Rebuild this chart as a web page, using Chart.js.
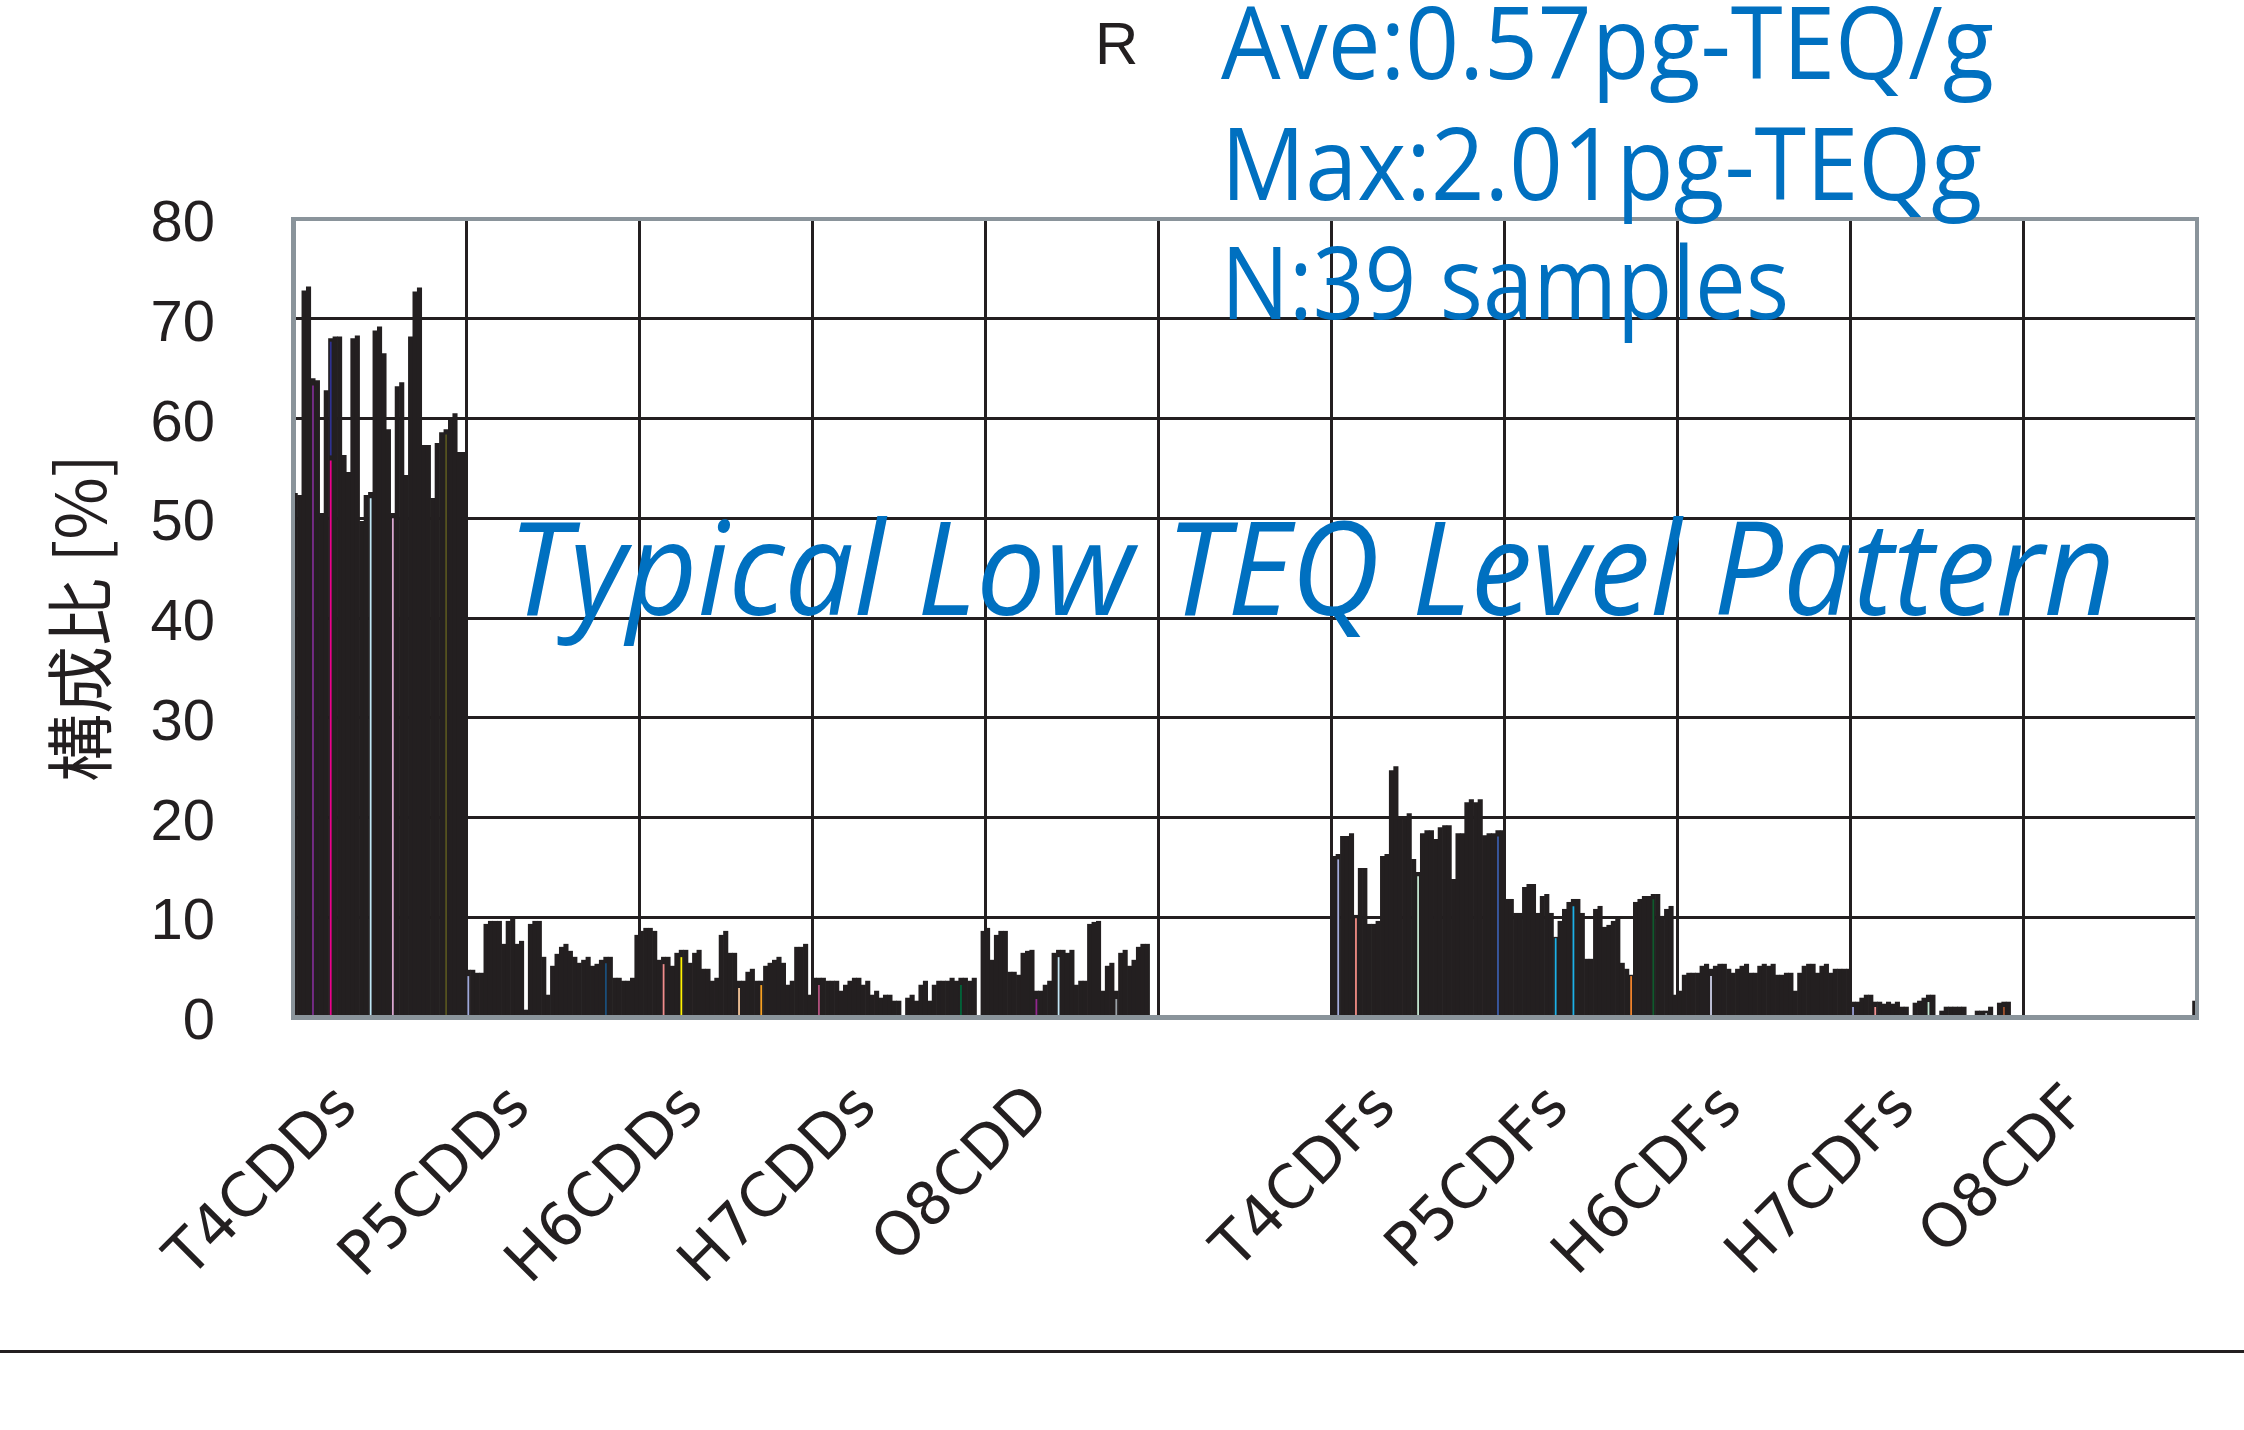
<!DOCTYPE html>
<html>
<head>
<meta charset="utf-8">
<script src="https://cdn.jsdelivr.net/npm/chart.js@4.4.1/dist/chart.umd.min.js"></script>
<style>
  html, body { margin: 0; background: #fff; }
  canvas { display: block; }
</style>
</head>
<body>
<canvas id="chart" width="2244" height="1430"></canvas>
<script>
// congener groups, 39 samples each (the 6th slot is an empty spacer column)
const groups = ['T4CDDs', 'P5CDDs', 'H6CDDs', 'H7CDDs', 'O8CDD', '', 'T4CDFs', 'P5CDFs', 'H6CDFs', 'H7CDFs', 'O8CDF'];
const perGroup = 39;
const yTicks = [0, 10, 20, 30, 40, 50, 60, 70, 80];

const t4cdds = [52.5, 52.3, 72.8, 73.2, 64.0, 63.8, 50.5, 62.8, 68.0, 68.2, 68.2, 56.3, 54.6, 68.0, 68.3, 49.7, 52.3, 52.6, 68.8, 69.2,
  66.5, 58.9, 50.5, 63.2, 63.6, 54.3, 68.2, 72.7, 73.1, 57.3, 57.3, 52.0, 57.5, 58.6, 58.9, 60.0, 60.5, 56.6, 56.6];
const p5cdds = [4.7, 4.7, 4.4, 4.4, 9.3, 9.6, 9.6, 9.6, 7.3, 9.6, 9.8, 7.3, 7.6, 0.7, 9.3, 9.6, 9.6, 6.0, 2.2, 5.1,
  6.3, 7.0, 7.3, 6.6, 6.0, 5.4, 5.7, 6.0, 5.1, 5.3, 5.7, 6.0, 6.0, 3.9, 3.9, 3.6, 3.6, 3.9, 8.2];
const h6cdds = [8.6, 8.9, 8.9, 8.6, 5.7, 6.0, 6.0, 5.1, 6.4, 6.7, 6.7, 5.4, 6.4, 6.7, 4.8, 4.8, 3.6, 3.9, 8.2, 8.6,
  6.4, 6.4, 3.6, 3.6, 4.5, 4.8, 3.6, 3.6, 5.1, 5.4, 5.7, 6.0, 5.4, 3.2, 3.6, 7.0, 7.0, 7.3, 2.2];
const h7cdds = [3.9, 3.9, 3.9, 3.6, 3.6, 3.6, 2.6, 3.2, 3.6, 3.9, 3.9, 3.2, 3.6, 2.2, 2.6, 1.9, 2.2, 2.2, 1.6, 1.6,
  0, 1.9, 2.2, 1.6, 3.2, 3.6, 1.6, 3.2, 3.6, 3.6, 3.6, 3.9, 3.6, 3.9, 3.9, 3.6, 3.9, 0, 8.6];
const o8cdd = [8.9, 5.7, 8.2, 8.6, 8.6, 4.5, 4.5, 4.2, 6.4, 6.6, 6.7, 2.6, 2.6, 3.2, 3.6, 6.4, 6.7, 6.7, 6.4, 6.7,
  3.2, 3.6, 3.6, 9.3, 9.5, 9.6, 2.6, 5.1, 5.4, 2.6, 6.4, 6.7, 5.1, 5.7, 7.0, 7.3, 7.3, 0, 0];
const spacer = [0, 0, 0, 0, 0, 0, 0, 0, 0, 0, 0, 0, 0, 0, 0, 0, 0, 0, 0, 0,
  0, 0, 0, 0, 0, 0, 0, 0, 0, 0, 0, 0, 0, 0, 0, 0, 0, 0, 0];
const t4cdfs = [16.1, 16.3, 18.1, 18.1, 18.4, 10.2, 14.9, 14.9, 9.3, 9.3, 9.6, 16.1, 16.3, 24.7, 25.1, 20.1, 20.1, 20.4, 15.8, 14.5,
  18.4, 18.7, 18.7, 17.8, 19.0, 19.2, 19.2, 13.8, 18.4, 18.4, 21.5, 21.8, 21.5, 21.8, 18.2, 18.4, 18.4, 18.7, 18.7];
const p5cdfs = [11.8, 11.8, 10.4, 10.4, 13.0, 13.3, 13.3, 10.4, 12.1, 12.3, 10.4, 8.0, 9.6, 10.8, 11.5, 11.8, 11.8, 10.4, 5.8, 5.8,
  10.8, 11.1, 9.0, 9.2, 9.6, 9.9, 5.4, 4.8, 4.2, 11.5, 11.8, 12.1, 12.1, 12.3, 12.3, 10.1, 10.8, 11.1, 2.2];
const h6cdfs = [2.6, 4.2, 4.4, 4.4, 4.4, 5.1, 5.3, 4.8, 5.1, 5.3, 5.3, 4.8, 4.4, 4.8, 5.1, 5.3, 4.4, 4.4, 5.1, 5.3,
  5.1, 5.3, 4.2, 4.2, 4.4, 4.4, 2.6, 4.4, 5.1, 5.3, 5.3, 4.4, 5.1, 5.3, 4.4, 4.8, 4.8, 4.8, 4.8];
const h7cdfs = [1.5, 1.5, 1.9, 2.2, 2.2, 1.5, 1.5, 1.3, 1.5, 1.3, 1.5, 1.0, 1.0, 0, 1.4, 1.6, 1.9, 2.2, 2.2, 0,
  0.6, 1.0, 1.0, 1.0, 1.0, 1.0, 0, 0, 0.6, 0.6, 0.6, 1.0, 0, 1.4, 1.5, 1.5, 0, 0, 0];
const o8cdf = [0, 0, 0, 0, 0, 0, 0, 0, 0, 0, 0, 0, 0, 0, 0, 0, 0, 0, 0, 0,
  0, 0, 0, 0, 0, 0, 0, 0, 0, 0, 0, 0, 0, 0, 0, 0, 0, 0, 1.6];

// thin coloured sample bars showing through the black ones
const stripeGroup  = [0, 0, 0, 0, 0, 1, 1, 2, 2, 2, 2, 3, 3, 4, 4, 4, 6, 6, 6, 6, 7, 7, 7, 7, 8, 9, 9, 9, 9, 9];
const stripeSample = [4, 8, 17, 22, 34, 0, 31, 5, 9, 22, 27, 1, 33, 11, 16, 29, 1, 5, 19, 37, 11, 15, 28, 33, 7, 0, 5, 17, 30, 34];
const stripeValues = [63.3, 55.8, 52.0, 50.0, 58.4, 4.1, 5.4, 5.3, 6.0, 2.9, 3.2, 3.2, 3.2, 1.8, 6.0, 1.8,
  15.8, 9.9, 14.1, 18.1, 7.9, 11.1, 4.1, 11.8, 4.1, 1.0, 1.0, 1.5, 0.4, 1.0];
const stripeColors = ['#7b2d8e', '#ec008c', '#bfe6f5', '#d9a7d0', '#55521f', '#9fa8da', '#1b4f7a',
  '#f08c8c', '#fff200', '#f7c79a', '#f7a021', '#b5527f', '#00663a', '#92278f', '#c4e6f5', '#9aa1a6',
  '#a3acdc', '#f38d85', '#c5e8d2', '#3b5ca8', '#1cb0e6', '#1cb0e6', '#f0822b', '#0f5a2c', '#cfd2ea',
  '#9aa0d8', '#f29191', '#c3e8d3', '#a0a6ab', '#a3532e'];
// blue segment sitting on top of the pink one in T4CDDs
const topStripe = { group: 0, sample: 8, range: [56.3, 67.7] };

const markText = 'R';
const noteLines = ['Ave:0.57pg-TEQ/g', 'Max:2.01pg-TEQg', 'N:39 samples'];
const patternText = 'Typical Low TEQ Level Pattern';
const yTitle = '構成比 [%]';

const series = [t4cdds, p5cdds, h6cdds, h7cdds, o8cdd, spacer, t4cdfs, p5cdfs, h6cdfs, h7cdfs, o8cdf];
const values = series.flat();

const labelSlot = 12;
const labels = [];
groups.forEach(g => {
  for (let i = 0; i < perGroup; i++) labels.push(i === labelSlot ? g : '');
});

const stripeData = values.map(() => null);
const stripeBg = values.map(() => 'rgba(0,0,0,0)');
stripeValues.forEach((v, k) => {
  const idx = stripeGroup[k] * perGroup + stripeSample[k];
  stripeData[idx] = v;
  stripeBg[idx] = stripeColors[k];
});
const topData = values.map(() => null);
topData[topStripe.group * perGroup + topStripe.sample] = topStripe.range;

const ink = '#231f20';
const frameGray = '#8a949b';
const blue = '#0070c0';

function fitText(ctx, text, x, y, width) {
  const w = ctx.measureText(text).width;
  ctx.save();
  ctx.translate(x, y);
  ctx.scale(width / w, 1);
  ctx.fillText(text, 0, 0);
  ctx.restore();
}

const overlay = {
  id: 'overlay',
  afterDatasetsDraw(chart) {
    const { ctx, chartArea: a } = chart;
    ctx.save();
    ctx.strokeStyle = frameGray;
    ctx.lineWidth = 4;
    ctx.strokeRect(a.left, a.top, a.right - a.left, a.bottom - a.top);
    ctx.restore();
  },
  afterDraw(chart) {
    const ctx = chart.ctx;
    ctx.save();
    ctx.textBaseline = 'alphabetic';
    ctx.textAlign = 'left';
    ctx.fillStyle = ink;
    ctx.font = '60px "Liberation Sans"';
    ctx.fillText(markText, 1095, 64);

    ctx.fillStyle = blue;
    ctx.font = '100px "Open Sans"';
    fitText(ctx, noteLines[0], 1221, 79, 773);
    fitText(ctx, noteLines[1], 1221, 200, 761);
    fitText(ctx, noteLines[2], 1221, 319, 568);

    ctx.font = 'italic 130px "Open Sans"';
    fitText(ctx, patternText, 508, 615, 1607);

    ctx.fillStyle = ink;
    ctx.fillRect(0, 1350, 2244, 3);
    ctx.restore();
  }
};

new Chart(document.getElementById('chart'), {
  type: 'bar',
  data: {
    labels: labels,
    datasets: [
      {
        data: values,
        backgroundColor: ink,
        borderWidth: 0,
        barPercentage: 1,
        categoryPercentage: 1,
        grouped: false,
        order: 2
      },
      {
        data: stripeData,
        backgroundColor: stripeBg,
        borderWidth: 0,
        barPercentage: 0.4,
        categoryPercentage: 1,
        grouped: false,
        order: 1
      },
      {
        data: topData,
        backgroundColor: '#2e3192',
        borderWidth: 0,
        barPercentage: 0.4,
        categoryPercentage: 1,
        grouped: false,
        order: 0
      }
    ]
  },
  options: {
    responsive: false,
    devicePixelRatio: 1,
    animation: false,
    layout: { padding: { left: 0, top: 219, right: 47, bottom: 0 } },
    plugins: { legend: { display: false }, tooltip: { enabled: false } },
    scales: {
      x: {
        type: 'category',
        afterFit(scale) {
          scale.height = 413;
          scale.paddingLeft = 0;
          scale.paddingRight = 0;
        },
        grid: {
          offset: true,
          drawTicks: false,
          lineWidth: 3,
          color: (c) => (c.index !== undefined && c.index % perGroup === 0 && c.index > 0) ? ink : 'rgba(0,0,0,0)'
        },
        border: { color: frameGray, width: 5 },
        ticks: {
          autoSkip: false,
          minRotation: 45,
          maxRotation: 45,
          padding: 56,
          color: ink,
          font: { family: '"DejaVu Sans"', size: 60 }
        }
      },
      y: {
        min: 0,
        max: 80,
        afterFit(scale) {
          scale.width = 293;
          scale.paddingTop = 0;
          scale.paddingBottom = 0;
        },
        afterBuildTicks(scale) { scale.ticks = yTicks.map(v => ({ value: v })); },
        grid: { color: ink, lineWidth: 3, drawTicks: false },
        border: { color: frameGray, width: 5 },
        ticks: {
          padding: 78,
          labelOffset: 6,
          color: ink,
          font: { family: '"Liberation Sans"', size: 58 }
        },
        title: {
          display: true,
          text: yTitle,
          color: ink,
          padding: { top: 39, bottom: 0 },
          font: { family: '"Noto Sans CJK JP"', size: 68 }
        }
      }
    }
  },
  plugins: [overlay]
});
</script>
</body>
</html>
